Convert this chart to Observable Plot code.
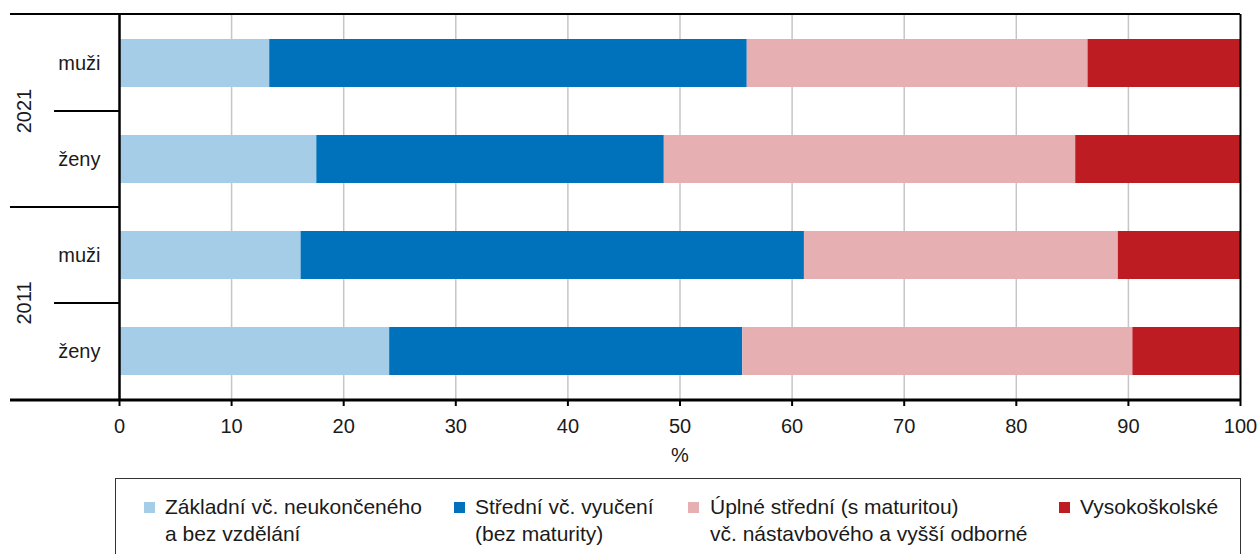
<!DOCTYPE html>
<html><head><meta charset="utf-8">
<script src="https://cdn.jsdelivr.net/npm/d3@7"></script>
<script src="https://cdn.jsdelivr.net/npm/@observablehq/plot@0.6"></script>
<style>
body{margin:0;background:#fff;font-family:"Liberation Sans",Arial,Helvetica,sans-serif;}
#wrap{position:relative;width:1259px;height:554px;overflow:hidden;background:#fff;}
#legend{position:absolute;left:115px;top:478px;width:1126px;height:120px;border:1px solid #333;box-sizing:border-box;}
.item{position:absolute;top:14px;font-size:21px;line-height:27px;color:#1a1a1a;white-space:pre;}
.sw{position:absolute;width:11px;height:11px;top:23px;}
</style></head><body><div id="wrap"><div id="chart"></div><div id="legend"></div></div>
<script>
(function () {
// ---- data ----
const years = ["2021", "2021", "2011", "2011"];
const sexes = ["muži", "ženy", "muži", "ženy"];
const levels = [
  "Základní vč. neukončeného a bez vzdělání",
  "Střední vč. vyučení (bez maturity)",
  "Úplné střední (s maturitou) vč. nástavbového a vyšší odborné",
  "Vysokoškolské"
];
const legendLabels = [
  "Základní vč. neukončeného\na bez vzdělání",
  "Střední vč. vyučení\n(bez maturity)",
  "Úplné střední (s maturitou)\nvč. nástavbového a vyšší odborné",
  "Vysokoškolské"
];
const zakladni  = [13.4, 17.6, 16.2, 24.1];
const stredni   = [42.6, 31.0, 44.9, 31.5];
const uplne     = [30.4, 36.7, 28.0, 34.8];
const vysoko    = [13.6, 14.7, 10.9,  9.6];
const colors = ["#a6cde7", "#0072bb", "#e6b0b3", "#bd1c22"];
const xTicks = [0, 10, 20, 30, 40, 50, 60, 70, 80, 90, 100];
const xLabel = "%";

// ---- build table ----
const series = [zakladni, stredni, uplne, vysoko];
const keys = years.map((y, i) => y + "|" + sexes[i]);
const data = keys.flatMap((k, i) => levels.map((lev, j) => ({key: k, level: lev, value: series[j][i]})));
const font = "Liberation Sans, Arial, Helvetica, sans-serif";

const plot = Plot.plot({
  width: 1259, height: 478,
  marginTop: 14, marginBottom: 78, marginLeft: 119, marginRight: 19,
  style: {fontFamily: font, fontSize: "20px", color: "#1a1a1a", background: "white"},
  x: {domain: [0, 100]},
  y: {domain: keys, paddingInner: 0.5, paddingOuter: 0.25},
  color: {domain: levels, range: colors},
  marks: [
    Plot.ruleX(xTicks.slice(1, -1), {stroke: "#c6c6c6", strokeWidth: 1.5}),
    Plot.barX(data, {x: "value", y: "key", fill: "level", order: levels}),
    Plot.ruleX([0], {stroke: "#000", strokeWidth: 2.5}),
    Plot.ruleX([100], {stroke: "#000", strokeWidth: 2}),
    Plot.axisX({ticks: xTicks, tickSize: 6, tickPadding: 12, label: null, fontSize: 20, strokeWidth: 2, stroke: "#000"}),
    Plot.axisY({tickSize: 0, tickPadding: 19, tickFormat: k => k.split("|")[1], label: null, fontSize: 20}),
    Plot.text([xLabel], {frameAnchor: "bottom", dy: 61, fontSize: 20, fill: "#1a1a1a"})
  ]
});

// ---- group structure on the left, from the plot's own scales ----
const xs = plot.scale("x"), ys = plot.scale("y");
const svg = d3.select(plot);
const yTop = ys.range[0], yBottom = ys.range[1];
const xLeft = xs.apply(0), xRight = xs.apply(100);
const half = (ys.step - ys.bandwidth) / 2;
const outer = 10;
const g = svg.append("g").attr("stroke", "#000");
g.append("line").attr("x1", outer).attr("x2", xRight).attr("y1", yTop).attr("y2", yTop).attr("stroke-width", 2);
g.append("line").attr("x1", outer).attr("x2", xRight).attr("y1", yBottom).attr("y2", yBottom).attr("stroke-width", 3);
const groups = Array.from(new Set(years));
groups.forEach((yr, gi) => {
  const ks = keys.filter((k, i) => years[i] === yr);
  const y0 = ys.apply(ks[0]) - half;
  const y1 = ys.apply(ks[ks.length - 1]) + ys.bandwidth + half;
  const mid = (y0 + y1) / 2;
  if (gi > 0) g.append("line").attr("x1", outer).attr("x2", xLeft).attr("y1", y0).attr("y2", y0).attr("stroke-width", 2);
  g.append("line").attr("x1", 54).attr("x2", xLeft).attr("y1", mid).attr("y2", mid).attr("stroke-width", 2);
  svg.append("text").attr("transform", `translate(24,${mid}) rotate(-90)`)
    .attr("text-anchor", "middle").attr("dy", "0.35em")
    .attr("font-size", 20).attr("font-family", font).attr("fill", "#1a1a1a").text(yr);
});

document.getElementById("chart").appendChild(plot);

// ---- legend ----
const swLeft = [28, 338, 572, 943];
const txLeft = [49, 359, 594, 964];
const lg = d3.select("#legend");
legendLabels.forEach((lab, i) => {
  lg.append("div").attr("class", "sw").style("left", swLeft[i] + "px").style("background", colors[i]);
  lg.append("div").attr("class", "item").style("left", txLeft[i] + "px").text(lab);
});
})();
</script></body></html>
